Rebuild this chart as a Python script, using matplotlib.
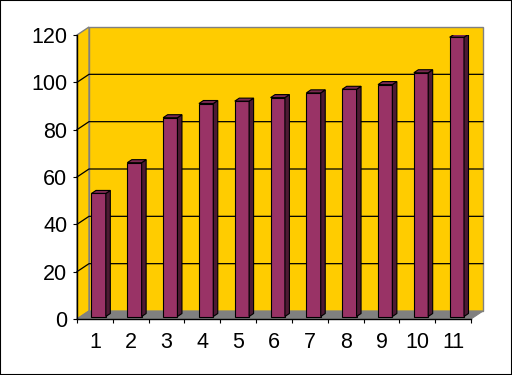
import matplotlib.pyplot as plt
from matplotlib.patches import Polygon, Rectangle
import numpy as np

categories = ['1', '2', '3', '4', '5', '6', '7', '8', '9', '10', '11']
values = [52, 65, 84, 90, 91, 92.5, 94.5, 96, 98, 103, 118]
y_ticks = [0, 20, 40, 60, 80, 100, 120]

wall_color = '#FFCC00'
floor_color = '#808080'
edge_grey = '#808080'
bar_front = '#993366'
bar_side = '#4D1A33'
bar_top = '#7A2952'

plt.rcParams['font.family'] = ['Liberation Sans', 'DejaVu Sans']

fig = plt.figure(figsize=(5.12, 3.75), dpi=100)
fig.patch.set_facecolor('white')
ax = fig.add_axes([77 / 512, 56 / 375, 394 / 512, 284 / 375])
n = len(categories)
ax.set_xlim(0, n)
ax.set_ylim(y_ticks[0], y_ticks[-1])
ax.set_facecolor('none')

# pixel sizes of the 3d depth, converted to data units
ppu = ax.transData.transform((1, 1)) - ax.transData.transform((0, 0))
wall_dx, wall_dy = 12 / ppu[0], 8 / ppu[1]
bar_dx, bar_dy = 4.5 / ppu[0], 3 / ppu[1]
off_x, off_y = (wall_dx - bar_dx) / 2, (wall_dy - bar_dy) / 2

ymax = y_ticks[-1]

# back wall
ax.add_patch(Rectangle((wall_dx, wall_dy), n, ymax, facecolor=wall_color,
                       edgecolor=edge_grey, lw=1, zorder=0, clip_on=False))
# left wall
ax.add_patch(Polygon([(0, 0), (wall_dx, wall_dy), (wall_dx, ymax + wall_dy), (0, ymax)],
                     closed=True, facecolor=wall_color, edgecolor=edge_grey, lw=1,
                     zorder=0.2, clip_on=False))
# gridlines on walls
for t in y_ticks[1:-1]:
    ax.plot([0, wall_dx, n + wall_dx], [t, t + wall_dy, t + wall_dy], color='black',
            lw=0.9, zorder=0.5, clip_on=False)
# floor
ax.add_patch(Polygon([(0, 0), (n, 0), (n + wall_dx, wall_dy), (wall_dx, wall_dy)],
                     closed=True, facecolor=floor_color, edgecolor=edge_grey, lw=0.8,
                     zorder=0.6, clip_on=False))

# bars
xpos = np.arange(n) + 0.5
w = 0.4
ax.bar(xpos + off_x, values, width=w, bottom=off_y, color=bar_front,
       edgecolor='black', lw=0.8, zorder=2)
for x, v in zip(xpos + off_x, values):
    xl, xr = x - w / 2, x + w / 2
    top = off_y + v
    ax.add_patch(Polygon([(xr, off_y), (xr + bar_dx, off_y + bar_dy),
                          (xr + bar_dx, top + bar_dy), (xr, top)],
                         closed=True, facecolor=bar_side, edgecolor='black',
                         lw=0.8, zorder=2))
    ax.add_patch(Polygon([(xl, top), (xr, top), (xr + bar_dx, top + bar_dy),
                          (xl + bar_dx, top + bar_dy)],
                         closed=True, facecolor=bar_top, edgecolor='black',
                         lw=0.8, zorder=2))

# axes
for s in ['top', 'right']:
    ax.spines[s].set_visible(False)
for s in ['left', 'bottom']:
    ax.spines[s].set_color('black')
    ax.spines[s].set_linewidth(1)
    ax.spines[s].set_zorder(3)

ax.set_yticks(y_ticks)
ax.tick_params(axis='y', direction='out', length=3, width=0.8, pad=4, labelsize=15.5)
ax.set_xticks(np.arange(n + 1))
ax.set_xticklabels([])
ax.set_xticks(xpos, minor=True)
ax.set_xticklabels(categories, minor=True)
ax.tick_params(axis='x', which='major', direction='out', length=3, width=0.8)
ax.tick_params(axis='x', which='minor', length=0, pad=9, labelsize=15.5)

fig.patches.append(Rectangle((0, 0), 1, 1, transform=fig.transFigure, fill=False,
                             edgecolor='black', lw=1.5))

fig.savefig('out.png', dpi=100)
